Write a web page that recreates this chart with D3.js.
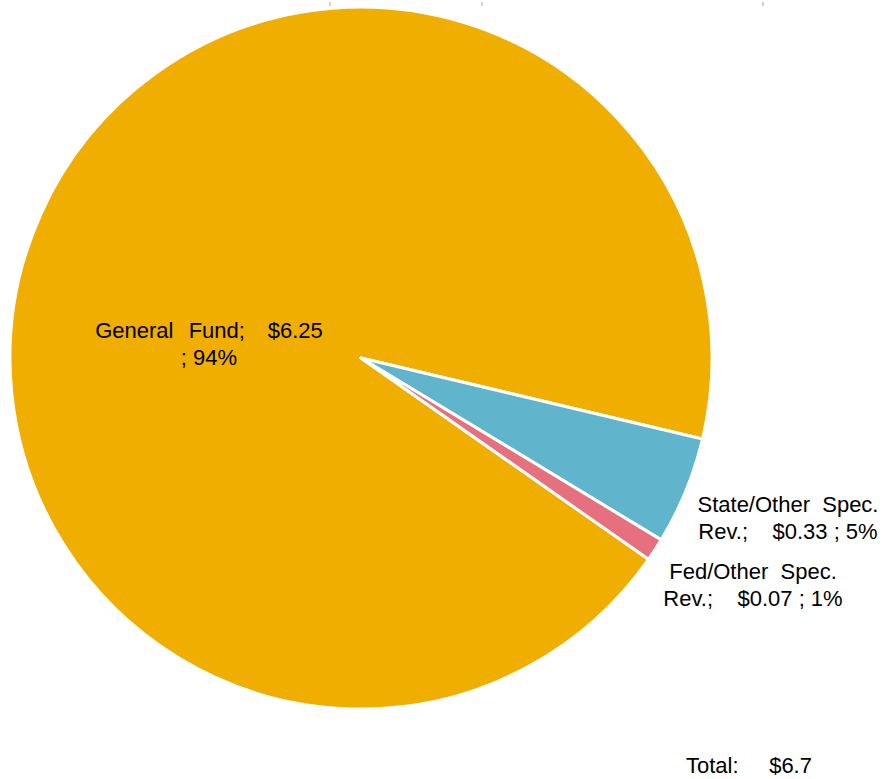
<!DOCTYPE html>
<html><head><meta charset="utf-8">
<script src="https://cdn.jsdelivr.net/npm/d3@7"></script>
<style>body{margin:0;background:#fff}svg{display:block}text{font-family:"Liberation Sans",Arial,sans-serif;white-space:pre}</style>
</head><body>
<script>
const categories = ["General Fund", "State/Other Spec. Rev.", "Fed/Other Spec. Rev."];
const values = [6.25, 0.33, 0.07];
const valueLabels = ["$6.25", "$0.33", "$0.07"];
const pctLabels = ["94%", "5%", "1%"];
const totalLabel = "Total:     $6.7";
const colors = ["#F0AE00", "#60B5CC", "#E6707E"];

const W = 892, H = 779;
const svg = d3.select("body").append("svg").attr("width", W).attr("height", H);

// tiny tick marks at top
[330, 482, 763].forEach(x => svg.append("rect").attr("x", x - 1).attr("y", 2).attr("width", 2).attr("height", 4).attr("fill", "#d0d0d0"));

const cx = 361, cy = 358, r = 351;
const pie = d3.pie().sort(null).startAngle(125 * Math.PI / 180).endAngle(485 * Math.PI / 180);
const arcs = pie(values);
const arc = d3.arc().innerRadius(0).outerRadius(r);
const g = svg.append("g").attr("transform", `translate(${cx},${cy})`);
g.selectAll("path").data(arcs).join("path")
  .attr("d", arc).attr("fill", (d, i) => colors[i])
  .attr("stroke", "#fff").attr("stroke-width", 3).attr("stroke-linejoin", "round");

const fs = 22;
function lines(x, y, arr, ws) {
  const t = svg.append("text").attr("text-anchor", "middle").attr("font-size", fs).attr("fill", "#000")
    .attr("word-spacing", ws || 0);
  arr.forEach((s, i) => t.append("tspan").attr("x", x).attr("y", y + i * 27).text(s));
}
lines(209, 338, [`General  Fund;   ${valueLabels[0]}`], 1.5);
lines(209, 365, [`; ${pctLabels[0]}`]);
lines(788, 512, ["State/Other  Spec.", `Rev.;    ${valueLabels[1]} ; ${pctLabels[1]}`]);
lines(753, 579, ["Fed/Other  Spec.", `Rev.;    ${valueLabels[2]} ; ${pctLabels[2]}`]);
svg.append("text").attr("x", 686).attr("y", 773).attr("font-size", fs).attr("fill", "#000").text(totalLabel);
</script>
</body></html>
